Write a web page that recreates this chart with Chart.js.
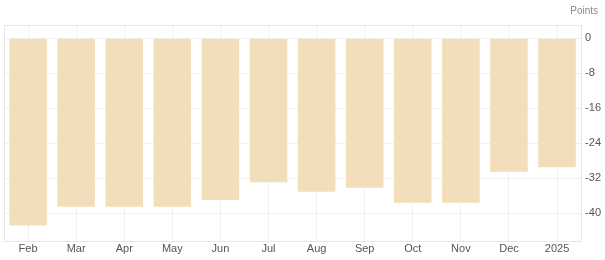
<!DOCTYPE html>
<html>
<head>
<meta charset="utf-8">
<script src="https://cdn.jsdelivr.net/npm/chart.js@4/dist/chart.umd.min.js"></script>
<style>
  html, body { margin: 0; padding: 0; background: #fff; }
  #wrap { width: 605px; height: 260px; }
</style>
</head>
<body>
<div id="wrap"><canvas id="chartPoints" width="605" height="260"></canvas></div>
<script>
var months = ['Feb', 'Mar', 'Apr', 'May', 'Jun', 'Jul', 'Aug', 'Sep', 'Oct', 'Nov', 'Dec', '2025'];
var points = [-42.8, -38.5, -38.5, -38.5, -37.0, -32.9, -35.1, -34.2, -37.6, -37.6, -30.5, -29.5];
var yTicks = [0, -8, -16, -24, -32, -40];

// frame round the plot area and the unit label top right
var framePlugin = {
  id: 'frame',
  beforeDatasetsDraw: function (chart) {
    var a = chart.chartArea, c = chart.ctx;
    c.save();
    c.strokeStyle = '#e6e6e6';
    c.lineWidth = 1;
    c.strokeRect(Math.round(a.left) + 0.5, Math.round(a.top) + 0.5,
      Math.round(a.right - a.left), Math.round(a.bottom - a.top));
    c.restore();
  },
  afterDraw: function (chart) {
    var c = chart.ctx;
    c.save();
    c.font = '10px "Liberation Sans", Arial, sans-serif';
    c.fillStyle = '#888';
    c.textAlign = 'right';
    c.textBaseline = 'middle';
    c.fillText('Points', 598, 11);
    c.restore();
  }
};

var ctx = document.getElementById('chartPoints');
var chartPoints = new Chart(ctx, {
  type: 'bar',
  data: {
    labels: months,
    datasets: [{
      label: 'Points',
      data: points,
      backgroundColor: '#F2DEBA',
      borderWidth: 0,
      barPercentage: 0.78,
      categoryPercentage: 1.0
    }]
  },
  options: {
    responsive: false,
    animation: false,
    layout: { padding: { left: 4, top: 25, right: 0, bottom: 2 } },
    scales: {
      x: {
        grid: { offset: false, color: '#f0f0f0', drawTicks: false },
        border: { display: false },
        ticks: {
          color: '#555',
          padding: 2,
          maxRotation: 0,
          font: { family: '"Liberation Sans", Arial, sans-serif', size: 11 }
        }
      },
      y: {
        position: 'right',
        min: -46.3,
        max: 3,
        afterBuildTicks: function (axis) {
          axis.ticks = yTicks.map(function (v) { return { value: v }; });
        },
        grid: { color: '#f0f0f0', drawTicks: false },
        border: { display: false },
        ticks: {
          color: '#555',
          padding: 4,
          font: { family: '"Liberation Sans", Arial, sans-serif', size: 11 }
        }
      }
    },
    plugins: {
      legend: { display: false },
      tooltip: { enabled: false }
    }
  },
  plugins: [framePlugin]
});
</script>
</body>
</html>
